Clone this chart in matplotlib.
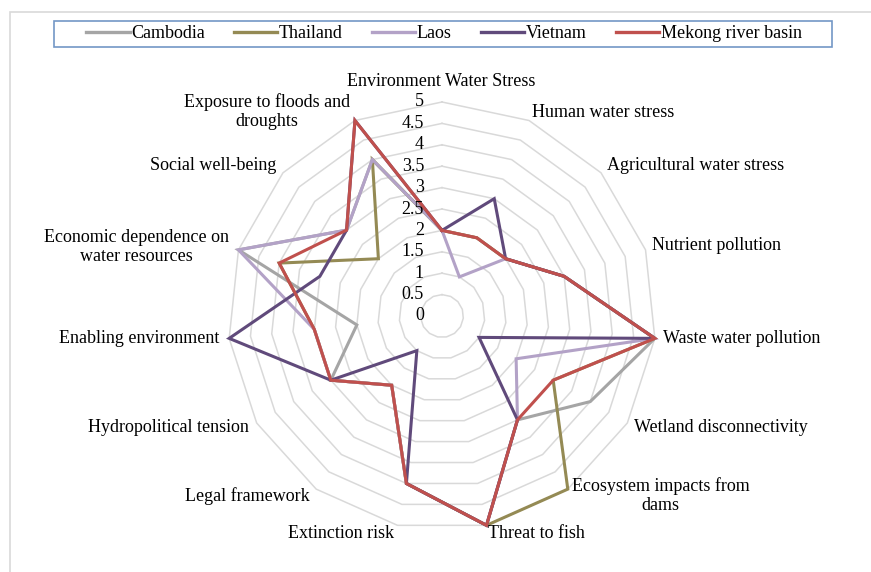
import numpy as np
import matplotlib
matplotlib.use("Agg")
import matplotlib.pyplot as plt
from matplotlib.patches import Rectangle
from matplotlib.lines import Line2D

plt.rcParams['font.family'] = ['Liberation Serif', 'DejaVu Serif']

categories = [
    "Environment Water Stress", "Human water stress", "Agricultural water stress",
    "Nutrient pollution", "Waste water pollution", "Wetland disconnectivity",
    "Ecosystem impacts from\ndams", "Threat to fish", "Extinction risk",
    "Legal framework", "Hydropolitical tension", "Enabling environment",
    "Economic dependence on\nwater resources", "Social well-being",
    "Exposure to floods and\ndroughts",
]
cambodia = [2, 2, 2, 3, 5, 4, 3, 5, 4, 2, 3, 2, 5, 3, 4]
thailand = [2, 2, 2, 3, 5, 3, 5, 5, 4, 2, 3, 3, 4, 2, 4]
laos     = [2, 1, 2, 3, 5, 2, 3, 5, 4, 2, 3, 3, 5, 3, 4]
vietnam  = [2, 3, 2, 3, 5, 1, 3, 5, 4, 1, 3, 5, 3, 3, 5]
mekong   = [2, 2, 2, 3, 5, 3, 3, 5, 4, 2, 3, 3, 4, 3, 5]
series_names = ["Cambodia", "Thailand", "Laos", "Vietnam", "Mekong river basin"]
radial_ticks = [0, 0.5, 1, 1.5, 2, 2.5, 3, 3.5, 4, 4.5, 5]
radial_labels = ["0", "0.5", "1", "1.5", "2", "2.5", "3", "3.5", "4", "4.5", "5"]

colors = ["#A5A5A5", "#948A54", "#B3A2C7", "#604A7B", "#C0504D"]
series = [cambodia, thailand, laos, vietnam, mekong]

W, H = 871, 572
fig = plt.figure(figsize=(W / 100, H / 100), dpi=100)

cx, cy, R = 442, 316, 214
ax = fig.add_axes([(cx - R) / W, (H - cy - R) / H, 2 * R / W, 2 * R / H], projection='polar')
ax.set_theta_offset(np.pi / 2)
ax.set_theta_direction(-1)
ax.set_ylim(0, 5)
ax.set_axis_off()

n = len(categories)
theta = np.arange(n) * 2 * np.pi / n
theta_c = np.append(theta, theta[0])

# grid polygons
for v in radial_ticks[1:]:
    ax.plot(theta_c, [v] * (n + 1), color="#D9D9D9", lw=1.1, zorder=1, clip_on=False)

for vals, col in zip(series, colors):
    ax.plot(theta_c, list(vals) + [vals[0]], color=col, lw=2.2, zorder=3,
            clip_on=False, solid_joinstyle='miter')

# radial labels
for v, lab in zip(radial_ticks, radial_labels):
    ax.annotate(lab, xy=(0, v), xytext=(-18, 0), textcoords='offset pixels',
                ha='right', va='center', fontsize=13, color='#000000', zorder=5)

# category labels: (dx, dy, ha)
offs = [(-1, 20, 'center'), (3, 8.5, 'left'), (6, 7, 'left'), (6.5, 4, 'left'),
        (8, 0, 'left'), (7, -4, 'left'), (4, -6, 'left'), (1.5, -8, 'left'),
        (-3.5, -8, 'right'), (-6, -7, 'right'), (-8, -4, 'right'), (-10, 0, 'right'),
        (-9.5, 3, 'right'), (-7, 7, 'right'), (-5, 8.5, 'right')]
for t, lab, (dx, dy, ha) in zip(theta, categories, offs):
    ax.annotate(lab, xy=(t, 5), xytext=(dx, dy), textcoords='offset pixels',
                ha=ha, va='center', multialignment='center', fontsize=13,
                linespacing=1.15, annotation_clip=False)

# chart frame
fig.patches.append(Rectangle((10 / W, -0.1), 1.2, (H - 12) / H + 0.1,
                             transform=fig.transFigure, fill=False,
                             edgecolor="#D9D9D9", lw=1.2))
# legend box
fig.patches.append(Rectangle((54 / W, 1 - 47 / H), (832 - 54) / W, 26 / H,
                             transform=fig.transFigure, fill=False,
                             edgecolor="#7397C6", lw=1.2))
handles = [Line2D([], [], color=c, lw=2.4) for c in colors]
fig.legend(handles, series_names, loc='center', ncol=5, frameon=False,
           bbox_to_anchor=(444 / W, 1 - 34 / H), fontsize=13,
           handlelength=2.4, handletextpad=0.1, columnspacing=1.6,
           borderpad=0, borderaxespad=0)

fig.savefig("out.png", dpi=100)
